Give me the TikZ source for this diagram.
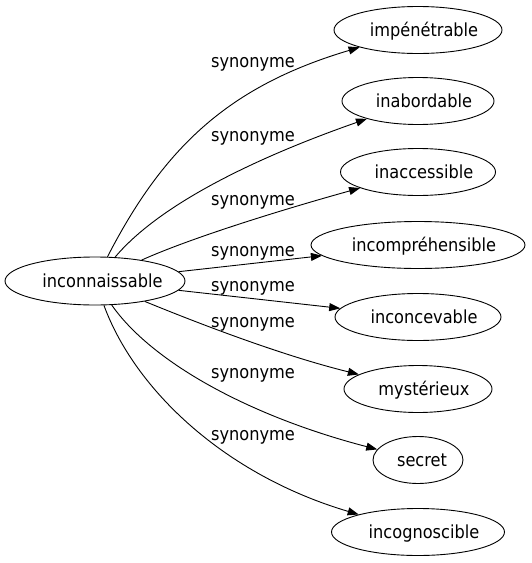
\documentclass[tikz,border=0pt]{standalone}
\usepackage{fontspec}
\setmainfont{DejaVu Sans Condensed}
\usetikzlibrary{arrows.meta,shapes.geometric}
\newcommand\wordtxt[2][12pt]{\makebox[0pt]{\hspace*{#1}#2}}
\begin{document}
\begin{tikzpicture}[x=1pt,y=-1pt,
  every node/.style={font=\fontsize{18}{21}\selectfont},
  word/.style={draw,ellipse,inner sep=0pt,line width=0.9pt,text height=12.5pt,text depth=0pt},
  rel/.style={anchor=base,inner sep=0pt},
  link/.style={line width=0.9pt,-{Triangle[length=11pt,width=8pt]}}]
\useasboundingbox (0,0) rectangle (531,563);
\node[word,minimum width=180pt,minimum height=48pt] (src) at (95,281) {\wordtxt[15pt]{inconnaissable}};
\node[word,minimum width=168pt,minimum height=47pt] (n1) at (418,30) {\wordtxt{impénétrable}};
\node[word,minimum width=152pt,minimum height=47pt] (n2) at (418,101) {\wordtxt{inabordable}};
\node[word,minimum width=155pt,minimum height=47pt] (n3) at (418,172) {\wordtxt{inaccessible}};
\node[word,minimum width=214pt,minimum height=47pt] (n4) at (418,245) {\wordtxt{incompréhensible}};
\node[word,minimum width=166pt,minimum height=47pt] (n5) at (418,317) {\wordtxt{inconcevable}};
\node[word,minimum width=148pt,minimum height=47pt] (n6) at (418,389) {\wordtxt{mystérieux}};
\node[word,minimum width=90pt,minimum height=47pt] (n7) at (418,460) {\wordtxt[8pt]{secret}};
\node[word,minimum width=173pt,minimum height=47pt] (n8) at (418,532) {\wordtxt{incognoscible}};
\draw[link] (src) .. controls (164,147) and (229,86) .. (n1);
\draw[link] (src) .. controls (164,199) and (272,152) .. (n2);
\draw[link] (src) .. controls (193,237) and (288,208) .. (n3);
\draw[link] (src) -- (n4);
\draw[link] (src) -- (n5);
\draw[link] (src) .. controls (195,322) and (280,355) .. (n6);
\draw[link] (src) .. controls (150,360) and (245,415) .. (n7);
\draw[link] (src) .. controls (135,390) and (225,475) .. (n8);
\node[rel] (l1) at (253,67) {synonyme};
\node[rel] (l2) at (253,141) {synonyme};
\node[rel] (l3) at (253,205) {synonyme};
\node[rel] (l4) at (253,256) {synonyme};
\node[rel] (l5) at (253,291) {synonyme};
\node[rel] (l6) at (253,327) {synonyme};
\node[rel] (l7) at (253,378) {synonyme};
\node[rel] (l8) at (253,440) {synonyme};
\end{tikzpicture}
\end{document}
